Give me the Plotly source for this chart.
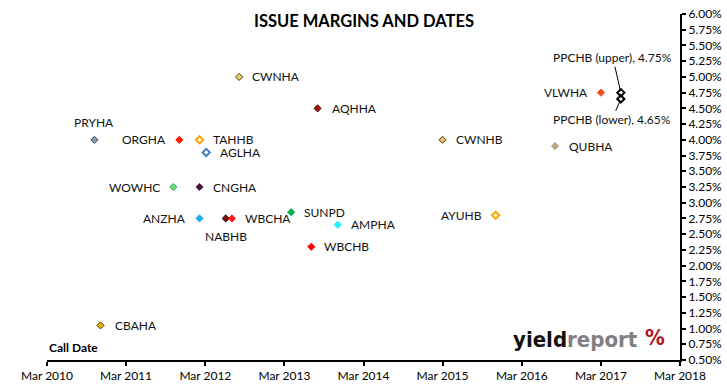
import plotly.graph_objects as go

# ---- data ----
issues = ["PRYHA", "CBAHA", "WOWHC", "ORGHA", "TAHHB", "CNGHA", "ANZHA", "AGLHA",
          "NABHB", "WBCHA", "CWNHA", "SUNPD", "WBCHB", "AQHHA", "AMPHA", "CWNHB",
          "AYUHB", "QUBHA", "VLWHA"]
call_dates = ["2010-10-06", "2010-11-03", "2011-10-05", "2011-11-02", "2012-02-03",
              "2012-02-03", "2012-02-03", "2012-03-05", "2012-06-03", "2012-07-02",
              "2012-08-04", "2013-04-01", "2013-07-03", "2013-08-01", "2013-11-02",
              "2015-03-01", "2015-11-01", "2016-08-01", "2017-03-01"]
margins = [4.00, 1.05, 3.25, 4.00, 4.00, 3.25, 2.75, 3.80, 2.75, 2.75, 5.00, 2.85,
           2.30, 4.50, 2.65, 4.00, 2.80, 3.90, 4.75]

ppchb_names = ["PPCHB (upper)", "PPCHB (lower)"]
ppchb_dates = ["2017-06-01", "2017-06-01"]
ppchb_margins = [4.75, 4.65]

x_ticks = ["2010-03-01", "2011-03-01", "2012-03-01", "2013-03-01", "2014-03-01",
           "2015-03-01", "2016-03-01", "2017-03-01", "2018-03-01"]
y_ticks = [0.50 + 0.25 * i for i in range(23)]

# ---- styles (fill, outline, symbol) ----
style = {
    "PRYHA": ("#8497B0", "#3a4a60", "diamond"),
    "CBAHA": ("#E8B400", "#4a3a10", "diamond"),
    "WOWHC": ("#66DD77", "#3aaa50", "diamond"),
    "ORGHA": ("#FF1A00", "#FF1A00", "diamond"),
    "TAHHB": ("#FFA500", "#FFA500", "diamond-open"),
    "CNGHA": ("#2A1E50", "#7a1a30", "diamond"),
    "ANZHA": ("#1EAAF1", "#1EAAF1", "diamond"),
    "AGLHA": ("#3C7DC4", "#3C7DC4", "diamond-open"),
    "NABHB": ("#7B0A0A", "#3a0505", "diamond"),
    "WBCHA": ("#FF1A1A", "#FF1A1A", "diamond"),
    "CWNHA": ("#F2D060", "#4a4020", "diamond"),
    "SUNPD": ("#00B050", "#00B050", "diamond"),
    "WBCHB": ("#FF0000", "#FF0000", "diamond"),
    "AQHHA": ("#A50F15", "#5a0808", "diamond"),
    "AMPHA": ("#22EEFF", "#22EEFF", "diamond"),
    "CWNHB": ("#E2C060", "#4a4020", "diamond"),
    "AYUHB": ("#FFA500", "#FFA500", "diamond-open"),
    "QUBHA": ("#C0A878", "#A8A8A8", "diamond"),
    "VLWHA": ("#FF4A1A", "#FF4A1A", "diamond"),
}
# label placement: (xshift, yshift, xanchor)
R, L = "left", "right"
place = {
    "PRYHA": (0, 17, "center"), "CBAHA": (12, 0, R), "WOWHC": (-11, 0, L),
    "ORGHA": (-11, 0, L), "TAHHB": (11, 0, R), "CNGHA": (11, 0, R),
    "ANZHA": (-12, 0, L), "AGLHA": (12, 0, R), "NABHB": (0, -18, "center"),
    "WBCHA": (11, 0, R), "CWNHA": (11, 0, R), "SUNPD": (11, 0, R),
    "WBCHB": (11, 0, R), "AQHHA": (12, 0, R), "AMPHA": (11, 0, R),
    "CWNHB": (11, 0, R), "AYUHB": (-12, 0, L), "QUBHA": (12, 0, R),
    "VLWHA": (-11, 0, L),
}

FONT = "Lato, 'Open Sans', sans-serif"

fig = go.Figure()
fig.add_trace(go.Scatter(
    x=call_dates, y=margins, mode="markers", text=issues, hoverinfo="text+y",
    marker=dict(
        symbol=[style[n][2] for n in issues],
        color=[style[n][0] for n in issues],
        size=5.5,
        line=dict(color=[style[n][1] for n in issues],
                  width=[2 if style[n][2].endswith("open") else 1 for n in issues]),
    ),
    showlegend=False,
))
fig.add_trace(go.Scatter(
    x=ppchb_dates, y=ppchb_margins, mode="markers", text=ppchb_names,
    marker=dict(symbol="diamond-open", color="black", size=5.5, line=dict(color="black", width=2)),
    showlegend=False,
))

annotations = []
for n, d, m in zip(issues, call_dates, margins):
    dx, dy, xa = place[n]
    annotations.append(dict(x=d, y=m, text=n, showarrow=False, xanchor=xa,
                            yanchor="middle", xshift=dx, yshift=dy,
                            font=dict(family=FONT, size=12, color="#111")))
# PPCHB callouts
for n, d, m, (ax, ay) in zip(ppchb_names, ppchb_dates, ppchb_margins, [(-8, -35), (-9, 21)]):
    annotations.append(dict(x=d, y=m, text=f"{n}, {m:.2f}%", showarrow=True,
                            arrowhead=0, arrowwidth=1, arrowcolor="black",
                            ax=ax, ay=ay, standoff=2,
                            font=dict(family=FONT, size=12, color="#111")))
# title
annotations.append(dict(xref="paper", yref="paper", x=0.5, y=1.0, yshift=-7,
                        text="<b>ISSUE MARGINS AND DATES</b>", showarrow=False,
                        xanchor="center", yanchor="middle",
                        font=dict(family=FONT, size=16.5, color="black")))
# call date label
annotations.append(dict(xref="paper", yref="paper", x=0, y=0, yshift=3,
                        text="<b>Call Date</b>", showarrow=False,
                        xanchor="left", yanchor="bottom",
                        font=dict(family=FONT, size=12, color="black")))
# logo
annotations.append(dict(xref="paper", yref="paper", x=0.937, y=0, yshift=6,
                        text="<b>yield</b><b><span style='color:#808080'>report</span></b>",
                        showarrow=False, xanchor="right", yanchor="bottom",
                        font=dict(family="'DejaVu Sans Condensed', 'DejaVu Sans', sans-serif",
                                  size=22, color="#111")))
annotations.append(dict(xref="paper", yref="paper", x=0.98, y=0, yshift=8,
                        text="<b>%</b>", showarrow=False, xanchor="right", yanchor="bottom",
                        font=dict(family="'DejaVu Sans Condensed', 'DejaVu Sans', sans-serif",
                                  size=22, color="#B0141E")))

fig.update_layout(
    width=727, height=391,
    margin=dict(l=47, r=47, t=14, b=31, autoexpand=False),
    paper_bgcolor="white", plot_bgcolor="white",
    font=dict(family=FONT, size=12, color="black"),
    annotations=annotations,
    xaxis=dict(type="date", range=["2010-03-01", "2018-03-01"], tickvals=x_ticks,
               tickformat="%b %Y", showgrid=False, zeroline=False, automargin=False,
               showline=True, linecolor="black", linewidth=2,
               ticks="outside", ticklen=4, tickwidth=2, tickcolor="black",
               tickfont=dict(family=FONT, size=12, color="black")),
    yaxis=dict(side="right", range=[0.5, 6.0], tickvals=y_ticks, automargin=False,
               ticktext=[f"{v:.2f}%" for v in y_ticks],
               showgrid=False, zeroline=False, showline=True, linecolor="black",
               linewidth=2, ticks="outside", ticklen=4, tickwidth=2, tickcolor="black",
               tickfont=dict(family=FONT, size=12, color="black")),
)

fig.write_html("out.html", config={"displayModeBar": False},
               post_script="document.body.style.margin='0px';document.body.style.overflow='hidden';")
